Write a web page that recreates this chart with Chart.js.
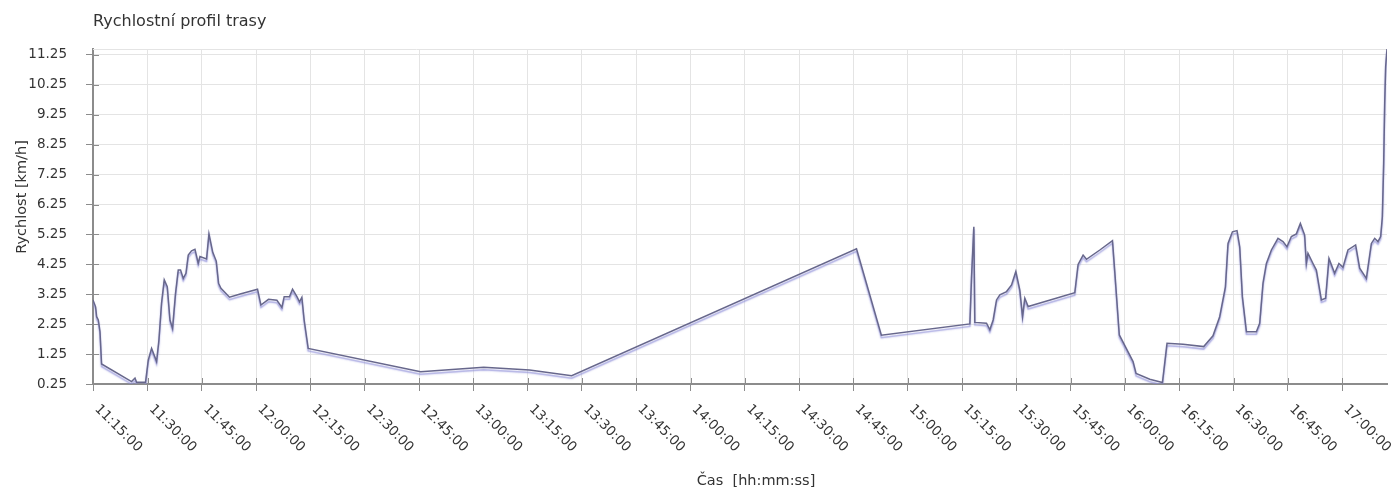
<!DOCTYPE html>
<html>
<head>
<meta charset="utf-8">
<script src="https://cdn.jsdelivr.net/npm/chart.js@4.4.1/dist/chart.umd.min.js"></script>
<style>
  html, body { margin: 0; padding: 0; background: #fff; }
  #wrap { width: 1396px; height: 493px; position: relative; }
</style>
</head>
<body>
<div id="wrap"><canvas id="rychlostChart"></canvas></div>
<script>
// data
const times = [
  "11:14:55","11:15:38","11:15:55","11:16:23","11:16:51","11:17:17","11:25:34","11:26:31","11:26:57","11:29:26",
  "11:30:11","11:31:06","11:32:29","11:33:08","11:33:51","11:34:36","11:35:26","11:36:11","11:36:54","11:37:43",
  "11:38:28","11:39:06","11:39:51","11:40:36","11:41:14","11:42:08","11:43:05","11:43:59","11:44:28","11:46:17",
  "11:46:57","11:48:00","11:48:58","11:49:36","11:50:16","11:52:38","11:55:35","12:00:22","12:01:18","12:03:24",
  "12:05:43","12:07:06","12:07:44","12:09:12","12:10:02","12:11:15","12:11:58","12:12:37","12:13:15","12:14:22",
  "12:45:25","13:02:51","13:15:31","13:27:09","14:45:50","14:52:42","15:17:09","15:17:37","15:18:15","15:18:31",
  "15:21:45","15:22:40","15:23:35","15:24:31","15:25:26","15:27:17","15:28:40","15:29:51","15:30:57","15:31:42",
  "15:32:20","15:33:15","15:46:08","15:47:03","15:48:26","15:49:22","15:53:03","15:56:33","15:57:11","15:58:26",
  "16:02:14","16:03:04","16:06:51","16:10:21","16:11:37","16:16:03","16:21:45","16:24:19","16:26:10","16:27:45",
  "16:28:28","16:29:41","16:30:57","16:31:42","16:32:26","16:33:33","16:36:18","16:37:13","16:38:08","16:39:04",
  "16:40:27","16:42:16","16:43:39","16:44:45","16:45:58","16:47:21","16:48:27","16:49:38","16:50:06","16:50:33",
  "16:51:56","16:52:52","16:54:15","16:55:26","16:56:21","16:57:55","16:59:06","17:00:13","17:01:36","17:03:43",
  "17:04:50","17:06:41","17:08:04","17:08:59","17:09:53","17:10:38","17:11:06","17:11:28","17:11:45","17:12:01",
  "17:12:23"
];
const speeds = [
  3.06, 2.83, 2.50, 2.39, 2.00, 0.92, 0.33, 0.45, 0.31, 0.31,
  1.05, 1.44, 1.00, 1.72, 2.95, 3.73, 3.50, 2.39, 2.11, 3.28,
  4.06, 4.06, 3.78, 3.95, 4.56, 4.70, 4.75, 4.29, 4.51, 4.43,
  5.27, 4.65, 4.36, 3.62, 3.45, 3.15, 3.26, 3.42, 2.89, 3.08,
  3.05, 2.81, 3.17, 3.17, 3.42, 3.17, 3.00, 3.15, 2.39, 1.44,
  0.66, 0.81, 0.72, 0.53, 4.77, 1.88, 2.26, 3.84, 5.51, 2.31,
  2.28, 2.06, 2.39, 3.06, 3.23, 3.34, 3.56, 4.01, 3.39, 2.50,
  3.12, 2.84, 3.30, 4.25, 4.56, 4.42, 4.73, 5.04, 4.00, 1.89,
  1.00, 0.60, 0.41, 0.30, 1.61, 1.58, 1.50, 1.86, 2.50, 3.50,
  4.95, 5.34, 5.38, 4.84, 3.17, 2.00, 2.00, 2.28, 3.62, 4.28,
  4.73, 5.12, 5.01, 4.84, 5.18, 5.27, 5.62, 5.23, 4.28, 4.62,
  4.28, 4.06, 3.06, 3.12, 4.45, 3.95, 4.28, 4.15, 4.73, 4.90,
  4.12, 3.78, 4.95, 5.12, 5.01, 5.18, 5.84, 7.63, 9.64, 10.86,
  11.45
];
const xTickLabels = [
  "11:15:00","11:30:00","11:45:00","12:00:00","12:15:00","12:30:00","12:45:00","13:00:00",
  "13:15:00","13:30:00","13:45:00","14:00:00","14:15:00","14:30:00","14:45:00","15:00:00",
  "15:15:00","15:30:00","15:45:00","16:00:00","16:15:00","16:30:00","16:45:00","17:00:00"
];
const yTickValues = [0.25, 1.25, 2.25, 3.25, 4.25, 5.25, 6.25, 7.25, 8.25, 9.25, 10.25, 11.25];

const chartTitle = "Rychlostní profil trasy";
const xTitle = "Čas  [hh:mm:ss]";
const yTitle = "Rychlost [km/h]";

function toSec(s) {
  const p = s.split(":").map(Number);
  return p[0] * 3600 + p[1] * 60 + p[2];
}

const points = times.map((t, i) => ({ x: toSec(t), y: speeds[i] }));
const xTickSecs = xTickLabels.map(toSec);

Chart.defaults.font.family = "'DejaVu Sans', sans-serif";
Chart.defaults.color = "#333";

const axisColor = "#8c8c8c";
const gridColor = "#e4e4e4";

// shadow under the line, rotated time labels, titles
const extras = {
  id: "extras",
  beforeDatasetsDraw(chart) {
    const { ctx, chartArea } = chart;
    const xs = chart.scales.x, ys = chart.scales.y;
    ctx.save();
    ctx.strokeStyle = gridColor;
    ctx.lineWidth = 1;
    ctx.beginPath();
    ctx.moveTo(chartArea.left, chartArea.top + 0.5);
    ctx.lineTo(chartArea.right, chartArea.top + 0.5);
    ctx.stroke();
    // inner half of tick marks
    ctx.strokeStyle = axisColor;
    ctx.beginPath();
    xTickSecs.forEach(v => {
      const px = Math.round(xs.getPixelForValue(v)) + 0.5;
      ctx.moveTo(px, chartArea.bottom);
      ctx.lineTo(px, chartArea.bottom - 6);
    });
    yTickValues.forEach(v => {
      const py = Math.round(ys.getPixelForValue(v)) + 0.5;
      ctx.moveTo(chartArea.left, py);
      ctx.lineTo(chartArea.left + 6, py);
    });
    ctx.stroke();
    ctx.restore();
  },
  beforeDatasetDraw(chart) {
    const ctx = chart.ctx;
    ctx.save();
    ctx.shadowColor = "rgba(140,140,215,0.85)";
    ctx.shadowOffsetX = 0;
    ctx.shadowOffsetY = 2.5;
    ctx.shadowBlur = 1.5;
  },
  afterDatasetDraw(chart) {
    chart.ctx.restore();
  },
  afterDraw(chart) {
    const { ctx, chartArea } = chart;
    const xs = chart.scales.x;
    ctx.save();
    ctx.fillStyle = "#333";
    ctx.font = "13.5px 'DejaVu Sans'";
    ctx.textAlign = "left";
    ctx.textBaseline = "middle";
    xTickSecs.forEach((v, i) => {
      const px = xs.getPixelForValue(v);
      ctx.save();
      ctx.translate(px + 3.5, chartArea.bottom + 23);
      ctx.rotate(Math.PI / 4);
      ctx.fillText(xTickLabels[i], 0, 0);
      ctx.restore();
    });
    ctx.font = "14.5px 'DejaVu Sans'";
    ctx.textAlign = "center";
    ctx.fillText(xTitle, 756, 481);
    ctx.save();
    ctx.translate(22, 197);
    ctx.rotate(-Math.PI / 2);
    ctx.fillText(yTitle, 0, 0);
    ctx.restore();
    ctx.font = "16px 'DejaVu Sans'";
    ctx.textAlign = "left";
    ctx.fillText(chartTitle, 93, 22);
    ctx.restore();
  }
};

new Chart(document.getElementById("rychlostChart"), {
  type: "line",
  data: {
    datasets: [{
      label: yTitle,
      data: points,
      borderColor: "#67678c",
      borderWidth: 1.5,
      pointRadius: 0,
      tension: 0,
      fill: false
    }]
  },
  options: {
    responsive: true,
    maintainAspectRatio: false,
    animation: false,
    layout: { padding: { top: 49, right: 9, bottom: 0, left: 0 } },
    plugins: {
      legend: { display: false },
      title: { display: false },
      tooltip: { enabled: false }
    },
    scales: {
      x: {
        type: "linear",
        min: toSec("11:14:55"),
        max: toSec("17:12:23"),
        afterBuildTicks: scale => { scale.ticks = xTickSecs.map(v => ({ value: v })); },
        afterFit: scale => { scale.height = 109; },
        ticks: { display: false },
        grid: { color: gridColor, tickColor: axisColor, tickLength: 7 },
        border: { color: axisColor, width: 2 }
      },
      y: {
        min: 0.25,
        max: 11.45,
        afterBuildTicks: scale => { scale.ticks = yTickValues.map(v => ({ value: v })); },
        afterFit: scale => { scale.width = 93; },
        ticks: {
          font: { size: 13.5 },
          color: "#333",
          padding: 19,
          callback: v => v.toFixed(2)
        },
        grid: { color: gridColor, tickColor: axisColor, tickLength: 7 },
        border: { color: axisColor, width: 2 }
      }
    }
  },
  plugins: [extras]
});
</script>
</body>
</html>
